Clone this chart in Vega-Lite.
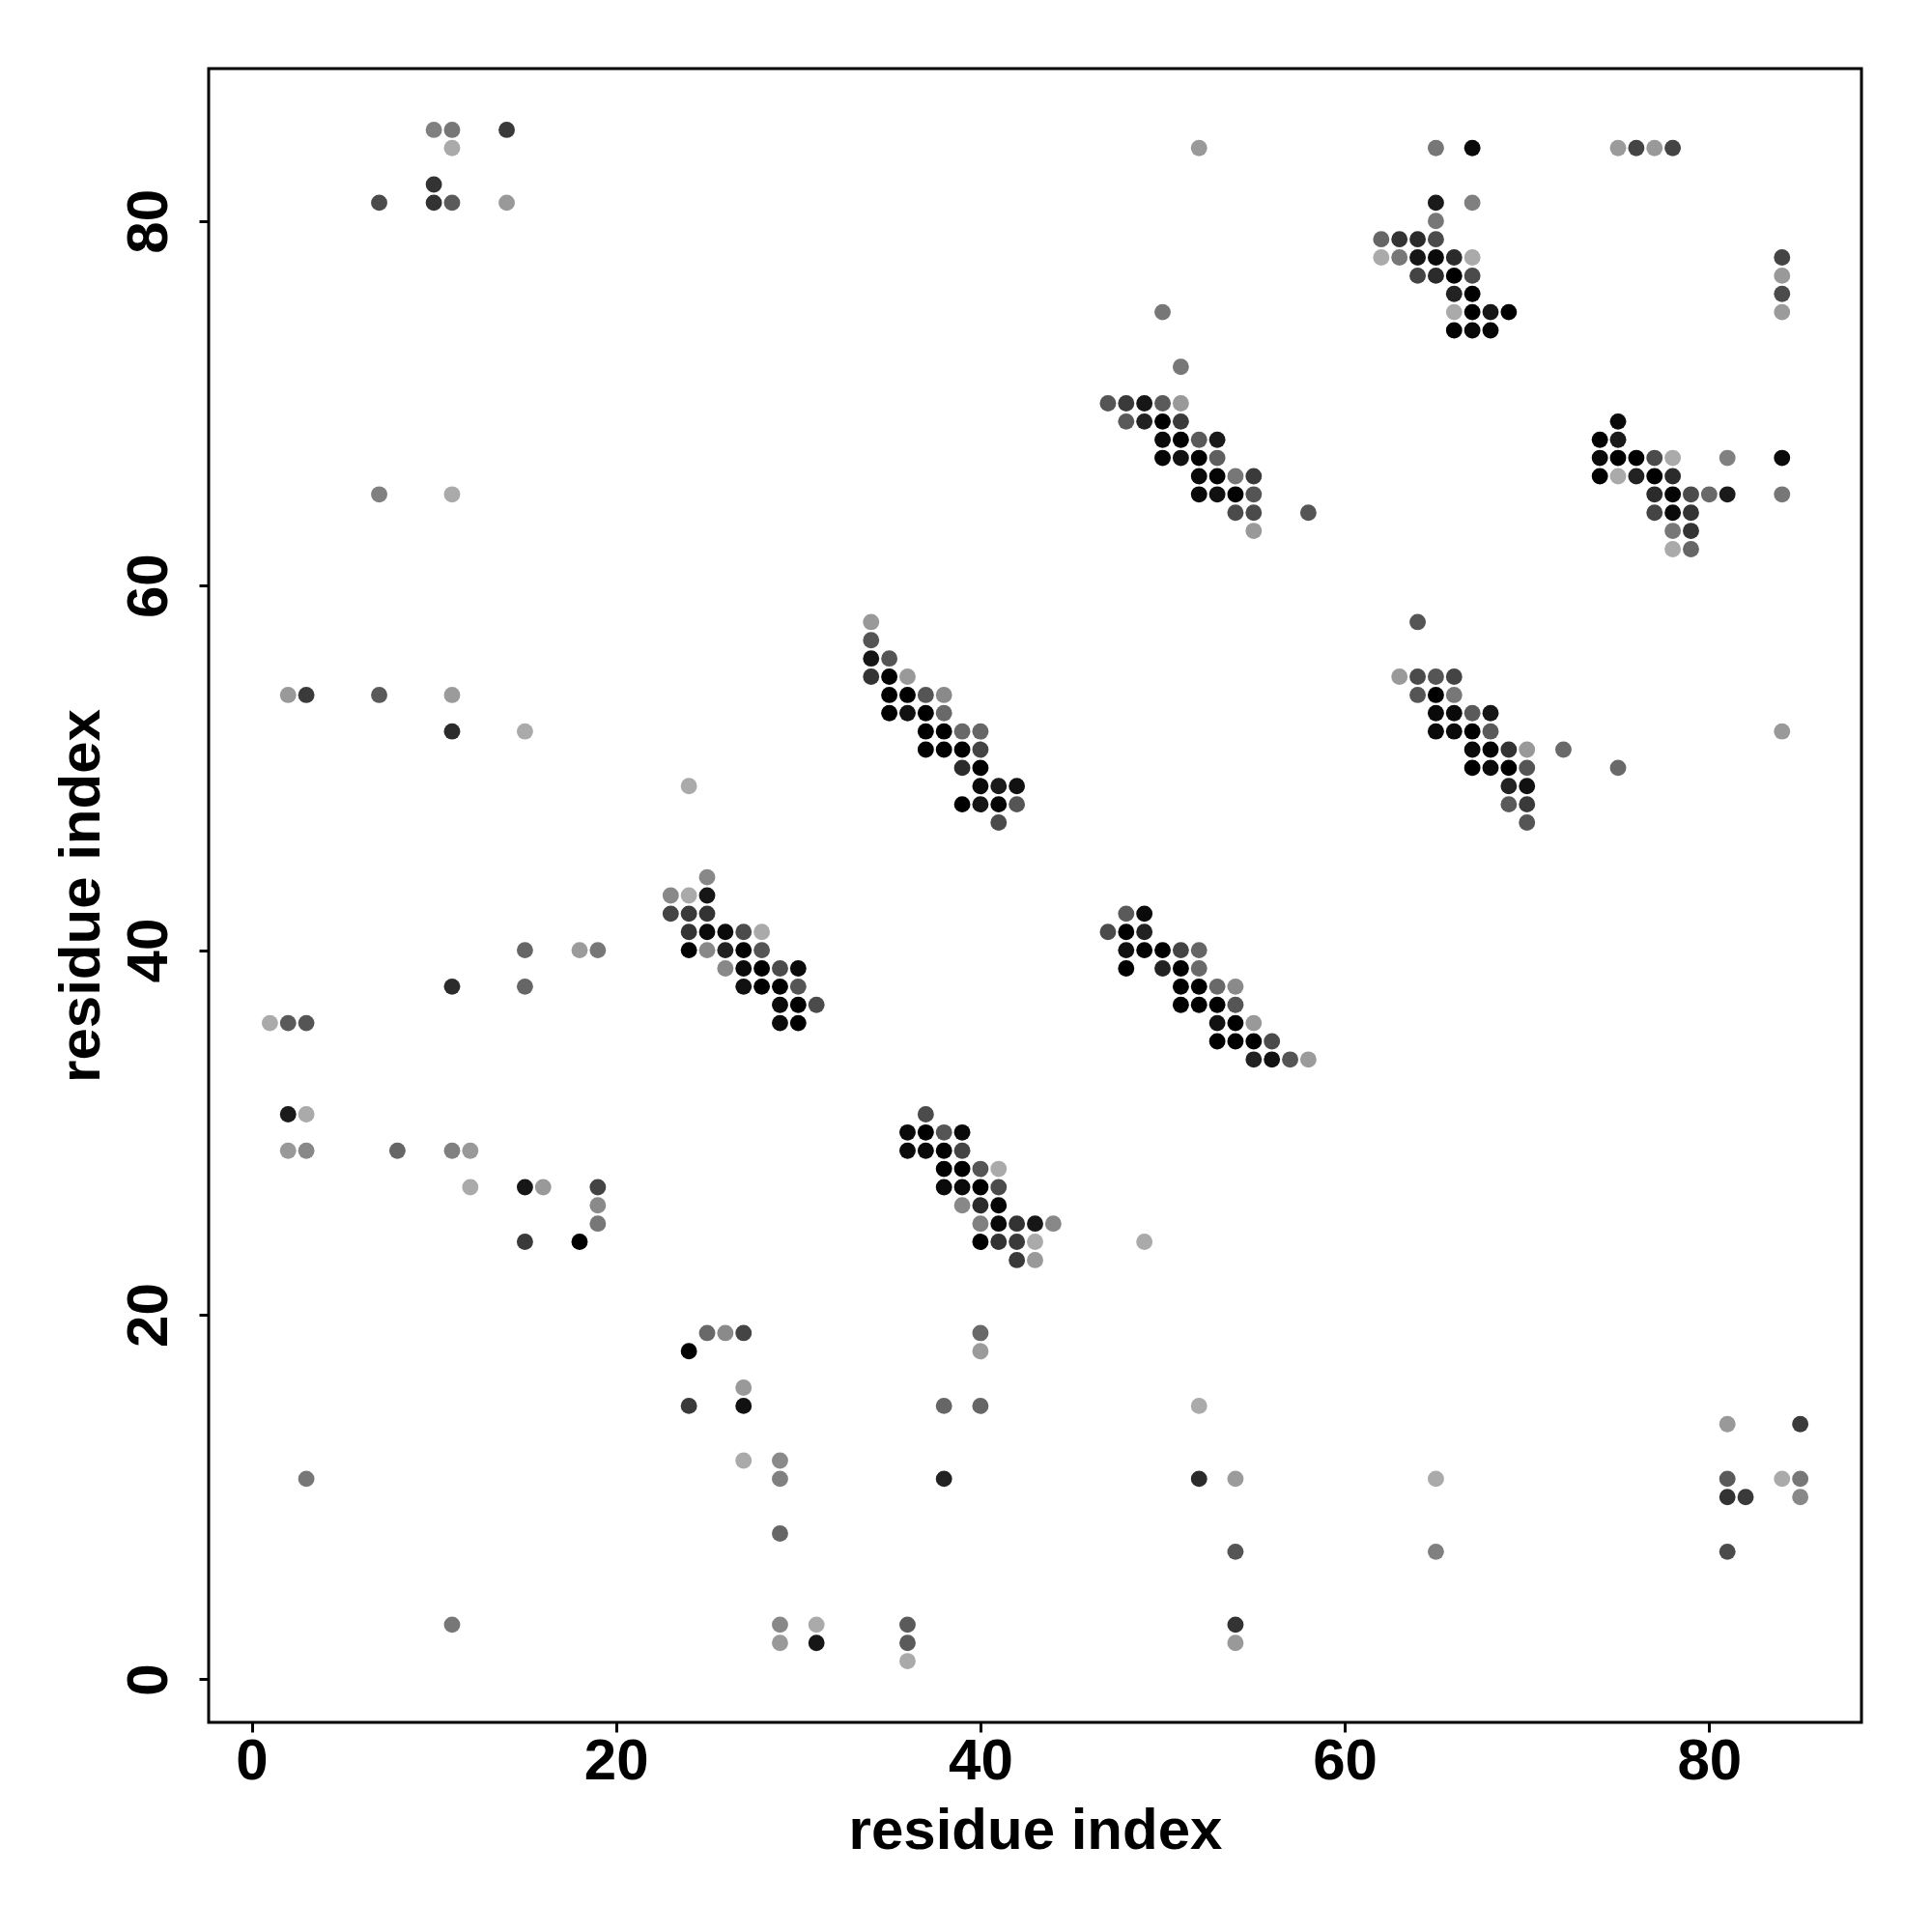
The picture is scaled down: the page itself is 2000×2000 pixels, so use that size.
{
"$schema": "https://vega.github.io/schema/vega-lite/v6.json",
"width": 1711, "height": 1712,
"autosize": {"type": "none"},
"padding": {"left": 216, "top": 71, "right": 73, "bottom": 217},
"background": "white",
"config": {"view": {"stroke": "black", "strokeWidth": 3}, "font": "Liberation Sans"},
"data": {"values": [
{"i":10,"j":85,"p":0.25},{"i":11,"j":85,"p":0.3},{"i":14,"j":85,"p":0.66},{"i":11,"j":84,"p":0},{"i":10,"j":82,"p":0.7},{"i":7,"j":81,"p":0.56},{"i":10,"j":81,"p":0.7},{"i":11,"j":81,"p":0.47},{"i":14,"j":81,"p":0.1},{"i":7,"j":65,"p":0.25},{"i":11,"j":65,"p":0},
{"i":52,"j":84,"p":0.1},{"i":50,"j":75,"p":0.3},{"i":51,"j":72,"p":0.3},
{"i":47,"j":70,"p":0.5},{"i":48,"j":70,"p":0.66},{"i":49,"j":70,"p":0.87},{"i":50,"j":70,"p":0.47},{"i":51,"j":70,"p":0.1},
{"i":48,"j":69,"p":0.47},{"i":49,"j":69,"p":0.8},{"i":50,"j":69,"p":1},{"i":51,"j":69,"p":0.66},
{"i":50,"j":68,"p":0.94},{"i":51,"j":68,"p":1},{"i":52,"j":68,"p":0.47},{"i":53,"j":68,"p":0.85},
{"i":50,"j":67,"p":0.97},{"i":51,"j":67,"p":0.9},{"i":52,"j":67,"p":1},{"i":53,"j":67,"p":0.44},
{"i":52,"j":66,"p":0.94},{"i":53,"j":66,"p":0.97},{"i":54,"j":66,"p":0.3},{"i":55,"j":66,"p":0.66},
{"i":52,"j":65,"p":0.94},{"i":53,"j":65,"p":0.9},{"i":54,"j":65,"p":1},{"i":55,"j":65,"p":0.5},
{"i":54,"j":64,"p":0.56},{"i":55,"j":64,"p":0.56},{"i":58,"j":64,"p":0.5},
{"i":55,"j":63,"p":0.1},{"i":34,"j":58,"p":0.1},
{"i":65,"j":84,"p":0.3},{"i":67,"j":84,"p":0.94},{"i":75,"j":84,"p":0.09},{"i":76,"j":84,"p":0.6},{"i":77,"j":84,"p":0.1},{"i":78,"j":84,"p":0.6},
{"i":65,"j":81,"p":0.85},{"i":67,"j":81,"p":0.25},{"i":65,"j":80,"p":0.3},
{"i":62,"j":79,"p":0.4},{"i":63,"j":79,"p":0.7},{"i":64,"j":79,"p":0.75},{"i":65,"j":79,"p":0.56},
{"i":62,"j":78,"p":0},{"i":63,"j":78,"p":0.3},{"i":64,"j":78,"p":0.87},{"i":65,"j":78,"p":0.94},{"i":66,"j":78,"p":0.75},{"i":67,"j":78,"p":0},
{"i":64,"j":77,"p":0.6},{"i":65,"j":77,"p":0.75},{"i":66,"j":77,"p":1},{"i":67,"j":77,"p":0.56},
{"i":66,"j":76,"p":0.8},{"i":67,"j":76,"p":1},
{"i":66,"j":75,"p":0},{"i":67,"j":75,"p":1},{"i":68,"j":75,"p":0.87},{"i":69,"j":75,"p":1},
{"i":66,"j":74,"p":1},{"i":67,"j":74,"p":0.94},{"i":68,"j":74,"p":0.97},
{"i":84,"j":78,"p":0.6},{"i":84,"j":77,"p":0.1},{"i":84,"j":76,"p":0.56},{"i":84,"j":75,"p":0.09},
{"i":75,"j":69,"p":0.94},
{"i":74,"j":68,"p":1},{"i":75,"j":68,"p":0.85},
{"i":74,"j":67,"p":0.94},{"i":75,"j":67,"p":1},{"i":76,"j":67,"p":1},{"i":77,"j":67,"p":0.56},{"i":78,"j":67,"p":0},{"i":81,"j":67,"p":0.25},{"i":84,"j":67,"p":0.94},
{"i":74,"j":66,"p":1},{"i":75,"j":66,"p":0},{"i":76,"j":66,"p":0.8},{"i":77,"j":66,"p":1},{"i":78,"j":66,"p":0.75},
{"i":77,"j":65,"p":0.75},{"i":78,"j":65,"p":0.97},{"i":79,"j":65,"p":0.56},{"i":80,"j":65,"p":0.38},{"i":81,"j":65,"p":0.85},{"i":84,"j":65,"p":0.3},
{"i":77,"j":64,"p":0.6},{"i":78,"j":64,"p":0.94},{"i":79,"j":64,"p":0.7},
{"i":78,"j":63,"p":0.3},{"i":79,"j":63,"p":0.7},
{"i":78,"j":62,"p":0},{"i":79,"j":62,"p":0.4},
{"i":64,"j":58,"p":0.5},
{"i":2,"j":54,"p":0.1},{"i":3,"j":54,"p":0.66},{"i":7,"j":54,"p":0.47},{"i":11,"j":54,"p":0.09},
{"i":11,"j":52,"p":0.75},{"i":15,"j":52,"p":0},
{"i":24,"j":49,"p":0},
{"i":25,"j":44,"p":0.2},
{"i":23,"j":43,"p":0.2},{"i":24,"j":43,"p":0},{"i":25,"j":43,"p":0.87},
{"i":23,"j":42,"p":0.6},{"i":24,"j":42,"p":0.66},{"i":25,"j":42,"p":0.7},
{"i":24,"j":41,"p":0.7},{"i":25,"j":41,"p":0.94},{"i":26,"j":41,"p":0.94},{"i":27,"j":41,"p":0.56},{"i":28,"j":41,"p":0},
{"i":15,"j":40,"p":0.4},{"i":18,"j":40,"p":0.09},{"i":19,"j":40,"p":0.3},{"i":24,"j":40,"p":1},{"i":25,"j":40,"p":0.2},{"i":26,"j":40,"p":0.8},{"i":27,"j":40,"p":1},{"i":28,"j":40,"p":0.5},
{"i":26,"j":39,"p":0.2},{"i":27,"j":39,"p":0.94},{"i":28,"j":39,"p":1},{"i":29,"j":39,"p":0.56},{"i":30,"j":39,"p":0.94},
{"i":11,"j":38,"p":0.75},{"i":15,"j":38,"p":0.4},{"i":27,"j":38,"p":0.9},{"i":28,"j":38,"p":1},{"i":29,"j":38,"p":1},{"i":30,"j":38,"p":0.5},
{"i":29,"j":37,"p":0.94},{"i":30,"j":37,"p":1},{"i":31,"j":37,"p":0.56},
{"i":29,"j":36,"p":0.94},{"i":30,"j":36,"p":1},{"i":1,"j":36,"p":0},{"i":2,"j":36,"p":0.47},{"i":3,"j":36,"p":0.5},
{"i":2,"j":31,"p":0.85},{"i":3,"j":31,"p":0},
{"i":2,"j":29,"p":0.1},{"i":3,"j":29,"p":0.2},{"i":8,"j":29,"p":0.4},{"i":11,"j":29,"p":0.25},{"i":12,"j":29,"p":0.1},
{"i":34,"j":57,"p":0.5},
{"i":34,"j":56,"p":0.87},{"i":35,"j":56,"p":0.5},
{"i":34,"j":55,"p":0.7},{"i":35,"j":55,"p":1},{"i":36,"j":55,"p":0.1},
{"i":35,"j":54,"p":1},{"i":36,"j":54,"p":1},{"i":37,"j":54,"p":0.5},{"i":38,"j":54,"p":0.19},
{"i":35,"j":53,"p":1},{"i":36,"j":53,"p":0.9},{"i":37,"j":53,"p":1},{"i":38,"j":53,"p":0.38},
{"i":37,"j":52,"p":1},{"i":38,"j":52,"p":1},{"i":39,"j":52,"p":0.38},{"i":40,"j":52,"p":0.4},
{"i":37,"j":51,"p":1},{"i":38,"j":51,"p":1},{"i":39,"j":51,"p":1},{"i":40,"j":51,"p":0.6},
{"i":39,"j":50,"p":0.75},{"i":40,"j":50,"p":1},
{"i":40,"j":49,"p":0.94},{"i":41,"j":49,"p":0.85},{"i":42,"j":49,"p":0.9},
{"i":39,"j":48,"p":1},{"i":40,"j":48,"p":0.87},{"i":41,"j":48,"p":0.97},{"i":42,"j":48,"p":0.5},
{"i":41,"j":47,"p":0.56},
{"i":48,"j":42,"p":0.47},{"i":49,"j":42,"p":0.94},
{"i":47,"j":41,"p":0.56},{"i":48,"j":41,"p":1},{"i":49,"j":41,"p":0.8},
{"i":48,"j":40,"p":0.9},{"i":49,"j":40,"p":1},{"i":50,"j":40,"p":1},{"i":51,"j":40,"p":0.6},{"i":52,"j":40,"p":0.4},
{"i":48,"j":39,"p":1},{"i":50,"j":39,"p":0.8},{"i":51,"j":39,"p":1},{"i":52,"j":39,"p":0.38},
{"i":51,"j":38,"p":1},{"i":52,"j":38,"p":1},{"i":53,"j":38,"p":0.38},{"i":54,"j":38,"p":0.19},
{"i":51,"j":37,"p":1},{"i":52,"j":37,"p":1},{"i":53,"j":37,"p":1},{"i":54,"j":37,"p":0.5},
{"i":53,"j":36,"p":0.9},{"i":54,"j":36,"p":1},{"i":55,"j":36,"p":0.1},
{"i":53,"j":35,"p":1},{"i":54,"j":35,"p":1},{"i":55,"j":35,"p":1},{"i":56,"j":35,"p":0.56},
{"i":55,"j":34,"p":0.8},{"i":56,"j":34,"p":0.9},{"i":57,"j":34,"p":0.5},{"i":58,"j":34,"p":0.09},
{"i":37,"j":31,"p":0.56},
{"i":36,"j":30,"p":0.94},{"i":37,"j":30,"p":1},{"i":38,"j":30,"p":0.5},{"i":39,"j":30,"p":0.94},
{"i":36,"j":29,"p":0.94},{"i":37,"j":29,"p":0.94},{"i":38,"j":29,"p":1},{"i":39,"j":29,"p":0.6},
{"i":38,"j":28,"p":1},{"i":39,"j":28,"p":1},{"i":40,"j":28,"p":0.5},{"i":41,"j":28,"p":0},
{"i":38,"j":27,"p":0.94},{"i":39,"j":27,"p":0.94},{"i":40,"j":27,"p":1},{"i":41,"j":27,"p":0.56},
{"i":39,"j":26,"p":0.2},{"i":40,"j":26,"p":0.75},{"i":41,"j":26,"p":0.97},
{"i":40,"j":25,"p":0.25},{"i":41,"j":25,"p":0.94},{"i":42,"j":25,"p":0.7},{"i":43,"j":25,"p":0.87},{"i":44,"j":25,"p":0.2},
{"i":40,"j":24,"p":1},{"i":41,"j":24,"p":0.7},{"i":42,"j":24,"p":0.66},{"i":43,"j":24,"p":0},{"i":49,"j":24,"p":0},
{"i":42,"j":23,"p":0.66},{"i":43,"j":23,"p":0.1},
{"i":40,"j":19,"p":0.38},{"i":40,"j":18,"p":0.09},
{"i":38,"j":15,"p":0.4},{"i":40,"j":15,"p":0.4},{"i":52,"j":15,"p":0},
{"i":29,"j":12,"p":0.19},
{"i":29,"j":11,"p":0.25},{"i":38,"j":11,"p":0.8},{"i":52,"j":11,"p":0.75},{"i":54,"j":11,"p":0.09},
{"i":29,"j":8,"p":0.4},{"i":54,"j":7,"p":0.5},
{"i":29,"j":3,"p":0.2},{"i":31,"j":3,"p":0},{"i":36,"j":3,"p":0.47},{"i":54,"j":3,"p":0.7},
{"i":29,"j":2,"p":0.1},{"i":31,"j":2,"p":0.87},{"i":36,"j":2,"p":0.47},{"i":54,"j":2,"p":0.1},
{"i":36,"j":1,"p":0},
{"i":12,"j":27,"p":0},{"i":15,"j":27,"p":0.87},{"i":16,"j":27,"p":0.1},{"i":19,"j":27,"p":0.6},
{"i":19,"j":26,"p":0.19},{"i":19,"j":25,"p":0.3},
{"i":15,"j":24,"p":0.66},{"i":18,"j":24,"p":1},
{"i":25,"j":19,"p":0.38},{"i":26,"j":19,"p":0.19},{"i":27,"j":19,"p":0.6},
{"i":24,"j":18,"p":1},{"i":27,"j":16,"p":0.1},
{"i":24,"j":15,"p":0.66},{"i":27,"j":15,"p":0.9},
{"i":27,"j":12,"p":0},{"i":3,"j":11,"p":0.3},{"i":11,"j":3,"p":0.3},
{"i":63,"j":55,"p":0.1},{"i":64,"j":55,"p":0.56},{"i":65,"j":55,"p":0.5},{"i":66,"j":55,"p":0.6},
{"i":64,"j":54,"p":0.5},{"i":65,"j":54,"p":1},{"i":66,"j":54,"p":0.3},
{"i":65,"j":53,"p":0.94},{"i":66,"j":53,"p":0.94},{"i":67,"j":53,"p":0.47},{"i":68,"j":53,"p":0.87},
{"i":65,"j":52,"p":0.94},{"i":66,"j":52,"p":0.94},{"i":67,"j":52,"p":1},{"i":68,"j":52,"p":0.47},
{"i":67,"j":51,"p":0.94},{"i":68,"j":51,"p":1},{"i":69,"j":51,"p":0.7},{"i":70,"j":51,"p":0.1},{"i":72,"j":51,"p":0.38},
{"i":67,"j":50,"p":1},{"i":68,"j":50,"p":0.94},{"i":69,"j":50,"p":1},{"i":70,"j":50,"p":0.5},{"i":75,"j":50,"p":0.38},
{"i":69,"j":49,"p":0.8},{"i":70,"j":49,"p":0.9},
{"i":69,"j":48,"p":0.47},{"i":70,"j":48,"p":0.66},
{"i":70,"j":47,"p":0.5},
{"i":84,"j":52,"p":0.1},
{"i":81,"j":14,"p":0.1},{"i":85,"j":14,"p":0.66},
{"i":65,"j":11,"p":0},{"i":81,"j":11,"p":0.47},{"i":84,"j":11,"p":0},{"i":85,"j":11,"p":0.3},
{"i":81,"j":10,"p":0.7},{"i":82,"j":10,"p":0.66},{"i":85,"j":10,"p":0.2},
{"i":65,"j":7,"p":0.25},{"i":81,"j":7,"p":0.56}
]},
"mark": {"type": "circle", "size": 285, "opacity": 1},
"encoding": {
"x": {"field": "i", "type": "quantitative",
 "scale": {"domain": [-2.36, 88.36], "nice": false, "zero": false},
 "axis": {"title": "residue index", "values": [0, 20, 40, 60, 80], "grid": false, "domain": false,
  "tickColor": "black", "tickWidth": 3, "tickSize": 10,
  "labelFont": "Liberation Sans", "labelFontWeight": "bold", "labelFontSize": 60, "labelColor": "black",
  "labelBaseline": "alphabetic", "labelPadding": 48, "labelFlush": false, "labelOverlap": false,
  "titleFont": "Liberation Sans", "titleFontWeight": "bold", "titleFontSize": 60, "titleColor": "black",
  "titleX": 855.5, "titleY": 130, "titleAlign": "center", "titleBaseline": "alphabetic"}},
"y": {"field": "j", "type": "quantitative",
 "scale": {"domain": [-2.36, 88.36], "nice": false, "zero": false},
 "axis": {"title": "residue index", "values": [0, 20, 40, 60, 80], "grid": false, "domain": false,
  "tickColor": "black", "tickWidth": 3, "tickSize": 10,
  "labelFont": "Liberation Sans", "labelFontWeight": "bold", "labelFontSize": 60, "labelColor": "black",
  "labelAngle": 270, "labelAlign": "center", "labelBaseline": "alphabetic", "labelPadding": 34, "labelFlush": false, "labelOverlap": false,
  "titleFont": "Liberation Sans", "titleFontWeight": "bold", "titleFontSize": 60, "titleColor": "black",
  "titleAngle": 270, "titleX": -114, "titleY": 856, "titleAlign": "center", "titleBaseline": "alphabetic"}},
"color": {"field": "p", "type": "quantitative",
 "scale": {"domain": [0, 1], "range": ["#aaaaaa", "#000000"], "interpolate": "rgb"}, "legend": null}
}
}
